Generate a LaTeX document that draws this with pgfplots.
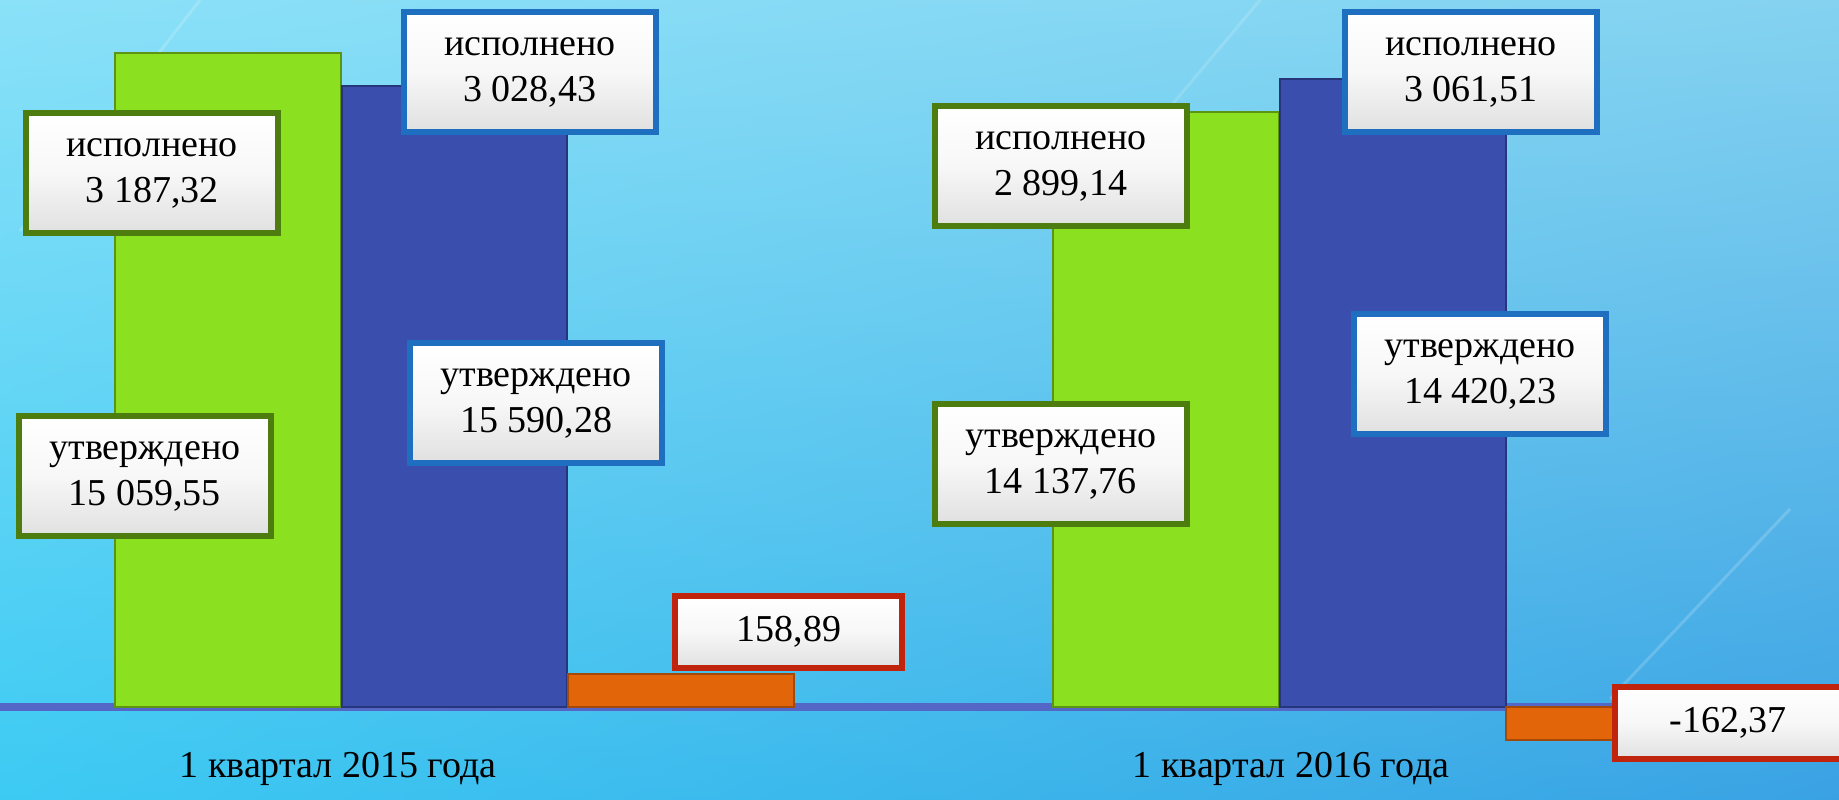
\documentclass[border=0pt]{standalone}
\usepackage{pgfplots}
\pgfplotsset{compat=1.18}
\usetikzlibrary{shadings}
\usepackage{fontspec}
\setmainfont{Liberation Serif}
\definecolor{bgTL}{HTML}{8AE1F8}
\definecolor{bgTR}{HTML}{84D2F0}
\definecolor{bgBL}{HTML}{3CCAF3}
\definecolor{bgBR}{HTML}{3AA2E3}
\definecolor{grn}{HTML}{8BE01F}
\definecolor{grnD}{HTML}{5C9414}
\definecolor{blu}{HTML}{3A4FAD}
\definecolor{bluD}{HTML}{27357A}
\definecolor{org}{HTML}{E2650A}
\definecolor{orgD}{HTML}{A3490A}
\definecolor{axl}{HTML}{5466C6}
\definecolor{gbord}{HTML}{4E7D0F}
\definecolor{bbord}{HTML}{1E6FBF}
\definecolor{rbord}{HTML}{C0240C}
\tikzset{
  box/.style={align=center, font=\fontsize{19}{23}\selectfont, minimum width=126pt, minimum height=60pt, line width=3pt, top color=white, bottom color=black!12, middle color=black!3, inner sep=2pt},
  obox/.style={box, draw=rbord, minimum width=113.5pt, minimum height=36pt},
}
\begin{document}
\begin{tikzpicture}
\shade[upper left=bgTL, upper right=bgTR, lower left=bgBL, lower right=bgBR] (0,0) rectangle (919.5pt,399.5pt);
\draw[white, opacity=0.18, line width=1.5pt] (10pt,284pt) -- (100pt,399.5pt);
\draw[white, opacity=0.15, line width=1.5pt] (580pt,340pt) -- (630pt,399.5pt);
\draw[white, opacity=0.18, line width=1.5pt] (805pt,50pt) -- (895pt,145pt);
\begin{axis}[
  at={(0,0)}, anchor=south west,
  scale only axis, width=919.5pt, height=399.5pt,
  xmin=-0.48454, xmax=1.47601,
  ymin=-448.4, ymax=3445.6,
  ybar, bar width=0.2409,
  axis line style={draw=none},
  ytick=\empty,
  xtick={-0.1242,0.8918},
  xticklabels={{1 квартал 2015 года},{1 квартал 2016 года}},
  xticklabel style={anchor=base, yshift=11pt, font=\fontsize{19}{23}\selectfont},
  major tick length=0pt,
  extra y ticks={0},
  extra y tick labels={},
  extra y tick style={grid=major, major grid style={draw=axl, line width=4pt}},
  clip=false,
]
\addplot[fill=grn, draw=grnD, line width=1pt, bar shift=-0.2415] coordinates {(0,3187.32) (1,2899.14)};
\addplot[fill=blu, draw=bluD, line width=1pt, bar shift=0] coordinates {(0,3028.43) (1,3061.51)};
\addplot[fill=org, draw=orgD, line width=1pt, bar shift=0.2415] coordinates {(0,158.89) (1,-162.37)};
\node[box, draw=gbord] at (rel axis cs:0.0827,0.7835) {исполнено\\3 187,32};
\node[box, draw=bbord] at (rel axis cs:0.2882,0.9099) {исполнено\\3 028,43};
\node[box, draw=gbord] at (rel axis cs:0.0788,0.4043) {утверждено\\15 059,55};
\node[box, draw=bbord] at (rel axis cs:0.2915,0.4956) {утверждено\\15 590,28};
\node[obox] at (rel axis cs:0.4290,0.2090) {158,89};
\node[box, draw=gbord] at (rel axis cs:0.5769,0.7922) {исполнено\\2 899,14};
\node[box, draw=bbord] at (rel axis cs:0.7999,0.9099) {исполнено\\3 061,51};
\node[box, draw=gbord] at (rel axis cs:0.5769,0.4193) {утверждено\\14 137,76};
\node[box, draw=bbord] at (rel axis cs:0.8048,0.5319) {утверждено\\14 420,23};
\node[obox] at (rel axis cs:0.9397,0.0951) {-162,37};
\end{axis}
\pgfresetboundingbox
\path[use as bounding box] (0,0) rectangle (919.5pt,399.5pt);
\end{tikzpicture}
\end{document}
